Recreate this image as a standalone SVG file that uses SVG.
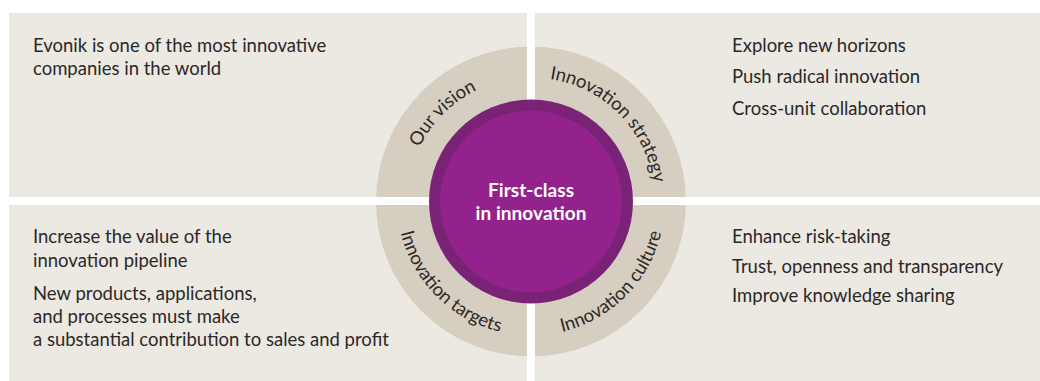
<svg xmlns="http://www.w3.org/2000/svg" width="1040" height="381" viewBox="0 0 1040 381">
<style>
.panel{fill:#ECE9E3}
.t{font-family:Lato,"Open Sans",sans-serif;font-size:18.5px;fill:#2b2827}
.ring{font-family:Lato,"Open Sans",sans-serif;font-size:18.5px;fill:#2b2827}
.c{font-family:Lato,"Open Sans",sans-serif;font-size:19px;font-weight:bold;fill:#ffffff;text-anchor:middle}
</style>
<defs>
<path id="pTL" d="M407,201.5 A124,124 0 0 1 531,77.5"/>
<path id="pTR" d="M531,77.5 A124,124 0 0 1 655,201.5"/>
<path id="pBL" d="M397,201.5 A134,134 0 0 0 531,335.5"/>
<path id="pBR" d="M531,335.5 A134,134 0 0 0 665,201.5"/>
</defs>
<rect width="1040" height="381" fill="#ffffff"/>
<g id="panel-vision">
<rect class="panel" x="9" y="13" width="518" height="184"/>
<text class="t" x="33" y="52">Evonik is one of the most innovative</text>
<text class="t" x="33" y="75">companies in the world</text>
</g>
<g id="panel-strategy">
<rect class="panel" x="535" y="13" width="505" height="184"/>
<text class="t" x="732" y="52">Explore new horizons</text>
<text class="t" x="732" y="83">Push radical innovation</text>
<text class="t" x="732" y="115">Cross-unit collaboration</text>
</g>
<g id="panel-targets">
<rect class="panel" x="9" y="205" width="518" height="176"/>
<text class="t" x="33" y="243">Increase the value of the</text>
<text class="t" x="33" y="266.5">innovation pipeline</text>
<text class="t" x="33" y="300">New products, applications,</text>
<text class="t" x="33" y="323">and processes must make</text>
<text class="t" x="33" y="346">a substantial contribution to sales and profit</text>
</g>
<g id="panel-culture">
<rect class="panel" x="535" y="205" width="505" height="176"/>
<text class="t" x="732" y="243">Enhance risk-taking</text>
<text class="t" x="732" y="272.5">Trust, openness and transparency</text>
<text class="t" x="732" y="301.5">Improve knowledge sharing</text>
</g>
<g id="ring">
<circle cx="531" cy="201.5" r="155" fill="#D6CEC0"/>
<rect x="527" y="40" width="8" height="325" fill="#ffffff"/>
<rect x="370" y="197" width="325" height="8" fill="#ffffff"/>
<text class="ring"><textPath href="#pTL" startOffset="50%" text-anchor="middle">Our vision</textPath></text>
<text class="ring"><textPath href="#pTR" startOffset="50%" text-anchor="middle">Innovation strategy</textPath></text>
<text class="ring"><textPath href="#pBL" startOffset="50%" text-anchor="middle">Innovation targets</textPath></text>
<text class="ring"><textPath href="#pBR" startOffset="50%" text-anchor="middle">Innovation culture</textPath></text>
</g>
<g id="center">
<circle cx="531" cy="201.5" r="102" fill="#7A2376"/>
<circle cx="531" cy="201.5" r="91" fill="#93228D"/>
<text class="c" x="531" y="197" textLength="86" lengthAdjust="spacing">First-class</text>
<text class="c" x="531" y="220" textLength="111" lengthAdjust="spacing">in innovation</text>
</g>
</svg>
